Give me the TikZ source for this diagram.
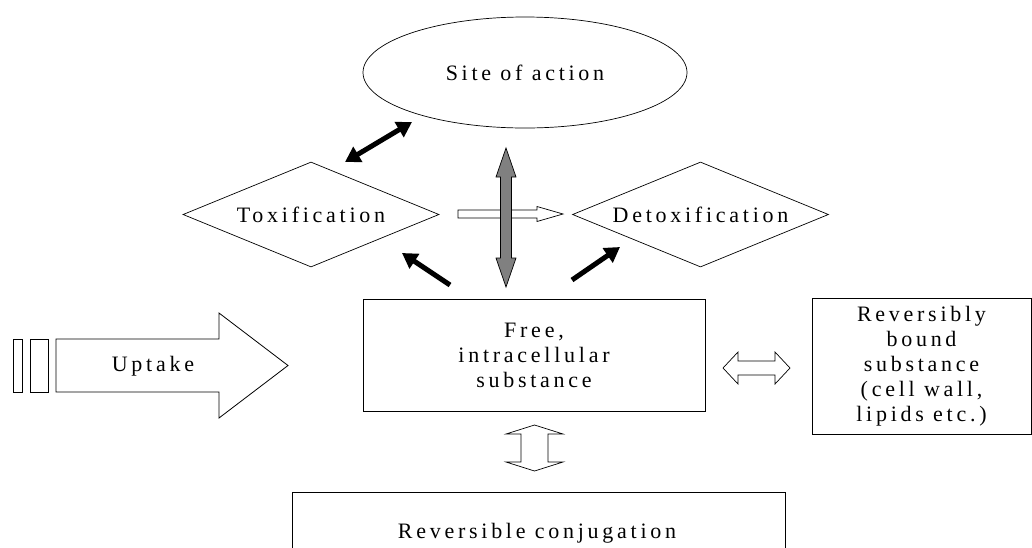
\documentclass[tikz,border=0pt]{standalone}
\usepackage{fontspec}
\setmainfont{Liberation Serif}[LetterSpace=17]
\usetikzlibrary{shapes.geometric,arrows.meta}
\begin{document}
\begin{tikzpicture}[x=1pt,y=-1pt,
  lbl/.style={font=\fontsize{22}{25}\selectfont, align=center, inner sep=0pt},
  box/.style={lbl, draw, line width=1pt, rectangle},
  dia/.style={lbl, draw, line width=0.7pt, diamond, shape aspect=2.44, minimum width=256pt, minimum height=105pt},
  blk/.style={line width=5pt, {Triangle[length=15pt,width=17pt]}-{Triangle[length=15pt,width=17pt]}},
  blkone/.style={line width=5pt, -{Triangle[length=15pt,width=17pt]}},
  openarrow/.style={draw, line width=0.7pt, fill=white, line join=miter},
  grayarrow/.style={draw, line width=0.7pt, fill=black!50, line join=miter}]
\useasboundingbox (0,0) rectangle (1032,547);
\clip (0,0) rectangle (1032,547);

% nodes
\node[lbl, draw, line width=0.7pt, ellipse, minimum width=324pt, minimum height=111pt] (site) at (525,72.5) {Site of action};
\node[dia] (tox) at (311,214.5) {Toxification};
\node[dia] (detox) at (700.5,214.5) {Detoxification};
\node[box, minimum width=342pt, minimum height=112pt] (free) at (534,355) {Free,\\intracellular\\substance};
\node[box, minimum width=219pt, minimum height=136pt] (bound) at (921.5,366) {Reversibly\\bound\\substance\\(cell wall,\\lipids etc.)};
\node[box, minimum width=492.5pt, minimum height=84pt] (conj) at (538.75,534) {};
\node[lbl] (conjtxt) at (537,533) {Reversible conjugation};

% uptake arrow
\draw[line width=0.8pt] (13,339) rectangle (22,392);
\draw[line width=0.8pt] (30,339) rectangle (48,392);
\draw[openarrow, line width=0.8pt] (56,339) -- (219,339) -- (219,313) -- (288,365.5) -- (219,418) -- (219,392) -- (56,392) -- cycle;
\node[lbl] (upt) at (153,366) {Uptake};

% open arrow toxification -> detoxification
\draw[openarrow] (458,210) -- (537,210) -- (537,206.5) -- (563,214) -- (537,221.5) -- (537,218) -- (458,218) -- cycle;

% gray vertical double arrow
\draw[grayarrow] (506,148) -- (516,177) -- (511.5,177) -- (511.5,258) -- (516,258) -- (506,287) -- (496,258) -- (500.5,258) -- (500.5,177) -- (496,177) -- cycle;

% black arrows
\coordinate (a1) at (345,162);
\coordinate (a2) at (412,122);
\draw[blk] (a1) -- (a2);
\coordinate (b1) at (450,285);
\coordinate (b2) at (402,253);
\draw[blkone] (b1) -- (b2);
\coordinate (c1) at (572,280);
\coordinate (c2) at (620,247);
\draw[blkone] (c1) -- (c2);

% open double arrow free <-> bound
\draw[openarrow] (723,368) -- (738,352) -- (738,361) -- (775,361) -- (775,352) -- (790,368) -- (775,384) -- (775,375) -- (738,375) -- (738,384) -- cycle;

% open double arrow free <-> conjugation
\draw[openarrow] (534.5,425) -- (563,434) -- (548,434) -- (548,462) -- (563,462) -- (534.5,471) -- (506,462) -- (521,462) -- (521,434) -- (506,434) -- cycle;
\end{tikzpicture}
\end{document}
